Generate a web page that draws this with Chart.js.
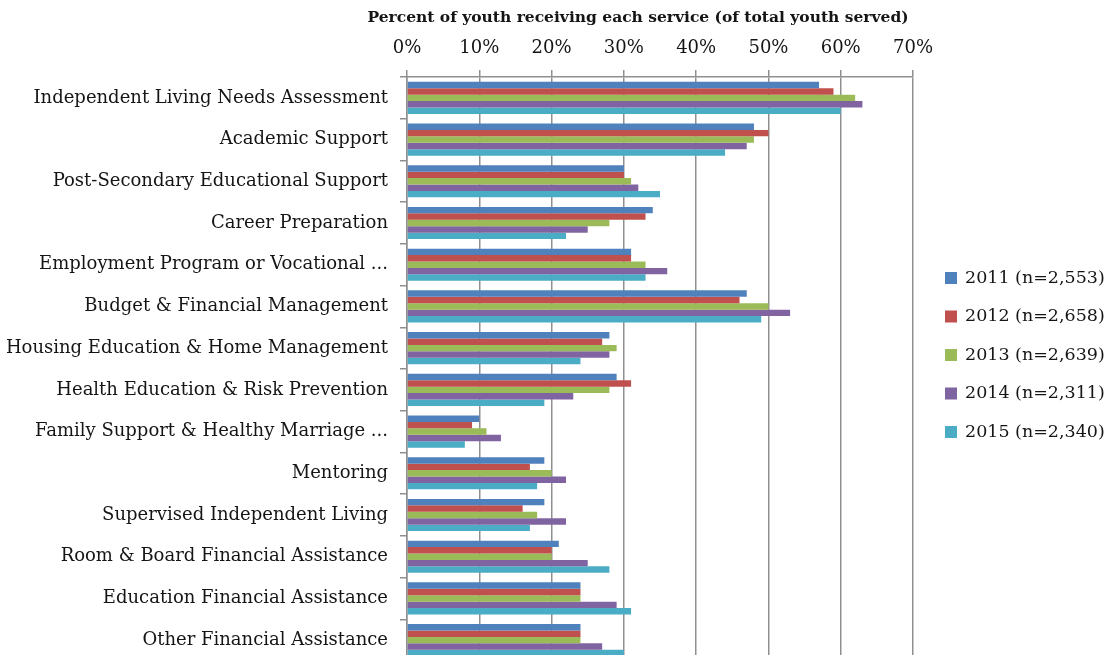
<!DOCTYPE html>
<html>
<head>
<meta charset="utf-8">
<title>Services received by youth</title>
<script src="https://cdn.jsdelivr.net/npm/chart.js@4.4.1/dist/chart.umd.min.js"></script>
<style>
    html, body { margin: 0; padding: 0; background: #fff; overflow: hidden; }
    #wrap { width: 1112px; height: 700px; }
</style>
</head>
<body>
<div id="wrap"><canvas id="chart" width="1112" height="700"></canvas></div>
<script>
// Categories (top to bottom)
const services = [
    'Independent Living Needs Assessment',
    'Academic Support',
    'Post-Secondary Educational Support',
    'Career Preparation',
    'Employment Program or Vocational ...',
    'Budget & Financial Management',
    'Housing Education & Home Management',
    'Health Education & Risk Prevention',
    'Family Support & Healthy Marriage ...',
    'Mentoring',
    'Supervised Independent Living',
    'Room & Board Financial Assistance',
    'Education Financial Assistance',
    'Other Financial Assistance'
];

// Series labels
const years = ['2011 (n=2,553)', '2012 (n=2,658)', '2013 (n=2,639)', '2014 (n=2,311)', '2015 (n=2,340)'];

// Percent of youth receiving each service
const pct2011 = [57, 48, 30, 34, 31, 47, 28, 29, 10, 19, 19, 21, 24, 24];
const pct2012 = [59, 50, 30, 33, 31, 46, 27, 31, 9, 17, 16, 20, 24, 24];
const pct2013 = [62, 48, 31, 28, 33, 50, 29, 28, 11, 20, 18, 20, 24, 24];
const pct2014 = [63, 47, 32, 25, 36, 53, 28, 23, 13, 22, 22, 25, 29, 27];
const pct2015 = [60, 44, 35, 22, 33, 49, 24, 19, 8, 18, 17, 28, 31, 30];

// Axis
const axisTitle = 'Percent of youth receiving each service (of total youth served)';
const xMin = 0;
const xMax = 70;
const xStep = 10;

const seriesColors = ['#4f81bd', '#c0504d', '#9bbb59', '#8064a2', '#4bacc6'];
const fontFamily = '"DejaVu Serif", serif';
const textColor = '#151515';
const lineColor = '#8f8f8f';

// Title above the axis and legend on the right, placed like the original
const headerAndLegend = {
    id: 'headerAndLegend',
    afterDraw(chart) {
        const ctx = chart.ctx;
        ctx.save();
        ctx.fillStyle = textColor;
        ctx.font = 'bold 15.5px ' + fontFamily;
        ctx.textAlign = 'center';
        ctx.textBaseline = 'middle';
        ctx.fillText(axisTitle, 638, 18);

        ctx.font = '17.5px ' + fontFamily;
        ctx.textAlign = 'left';
        chart.data.datasets.forEach((ds, i) => {
            const y = 278 + i * 38.5;
            ctx.fillStyle = ds.backgroundColor;
            ctx.fillRect(945, y - 6, 12, 12);
            ctx.fillStyle = textColor;
            ctx.fillText(ds.label, 965, y);
        });
        ctx.restore();
    }
};

const seriesValues = [pct2011, pct2012, pct2013, pct2014, pct2015];

const ctx = document.getElementById('chart').getContext('2d');
const chart = new Chart(ctx, {
    type: 'bar',
    data: {
        labels: services,
        datasets: seriesValues.map((vals, i) => ({
            label: years[i],
            data: vals,
            backgroundColor: seriesColors[i],
            borderWidth: 0,
            categoryPercentage: 0.77,
            barPercentage: 1.0
        }))
    },
    options: {
        indexAxis: 'y',
        responsive: false,
        animation: false,
        devicePixelRatio: 1,
        layout: {
            padding: { top: 0, left: 0, right: 199, bottom: 39 }
        },
        plugins: {
            legend: { display: false },
            title: { display: false },
            tooltip: { enabled: false }
        },
        scales: {
            x: {
                position: 'top',
                min: xMin,
                max: xMax,
                ticks: {
                    stepSize: xStep,
                    callback: function(value) {
                        return value + '%';
                    },
                    font: { family: fontFamily, size: 18 },
                    color: textColor,
                    padding: 11,
                    maxRotation: 0
                },
                grid: {
                    color: lineColor,
                    tickColor: lineColor,
                    tickLength: 7,
                    lineWidth: 1.5
                },
                border: { color: lineColor, width: 1.5 },
                afterFit: function(scale) {
                    scale.height = 77;
                }
            },
            y: {
                ticks: {
                    font: { family: fontFamily, size: 18 },
                    color: textColor,
                    padding: 12,
                    autoSkip: false
                },
                grid: {
                    drawOnChartArea: false,
                    offset: true,
                    color: lineColor,
                    tickColor: lineColor,
                    tickLength: 7,
                    lineWidth: 1.5
                },
                border: { color: lineColor, width: 1.5 },
                afterFit: function(scale) {
                    scale.width = 407;
                }
            }
        }
    },
    plugins: [headerAndLegend]
});
</script>
</body>
</html>
